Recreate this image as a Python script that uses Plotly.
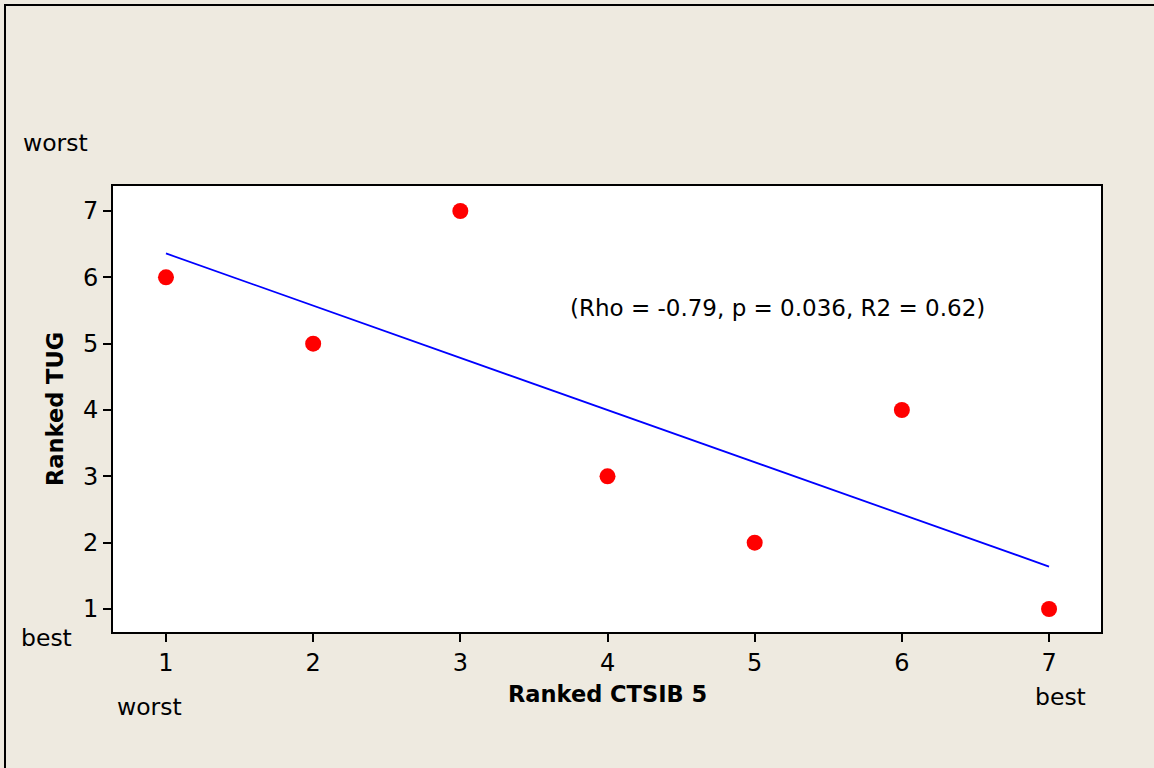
import plotly.graph_objects as go

# Data
ctsib_rank = [1, 2, 3, 4, 5, 6, 7]
tug_rank = [6, 5, 7, 3, 2, 4, 1]
fit_x = [1, 7]
fit_y = [6.36, 1.64]
x_ticks = [1, 2, 3, 4, 5, 6, 7]
y_ticks = [1, 2, 3, 4, 5, 6, 7]
stats_text = "(Rho = -0.79, p = 0.036, R2 = 0.62)"

W, H = 1154, 768
L, R, T, B = 113, 1101, 186, 632
FONT = "DejaVu Sans"
BG = "#EEEAE0"


def px(xp):
    return (xp - L) / (R - L)


def py(yp):
    return (B - yp) / (B - T)


fig = go.Figure()
fig.add_trace(go.Scatter(x=fit_x, y=fit_y, mode="lines",
                         line=dict(color="#0000FF", width=1.8),
                         hoverinfo="skip", showlegend=False))
fig.add_trace(go.Scatter(x=ctsib_rank, y=tug_rank, mode="markers",
                         marker=dict(color="#FF0000", size=16, line=dict(width=0)),
                         showlegend=False))

axis_common = dict(showgrid=False, zeroline=False, showline=True, linecolor="black",
                   linewidth=2, mirror=True, ticks="outside", ticklen=8, tickwidth=2,
                   tickcolor="black", tickfont=dict(family=FONT, size=24, color="black"))

fig.update_xaxes(range=[0.64, 7.353], tickvals=x_ticks, **axis_common)
fig.update_yaxes(range=[0.653, 7.377], tickvals=y_ticks, **axis_common)

anns = [
    dict(x=777, y=308, text=stats_text, size=23),
    dict(x=55, y=143, text="worst", size=23.5),
    dict(x=46, y=638, text="best", size=23.5),
    dict(x=149, y=707, text="worst", size=23.5),
    dict(x=1060, y=697, text="best", size=23.5),
    dict(x=607, y=694, text="<b>Ranked CTSIB 5</b>", size=22.5),
]
for a in anns:
    fig.add_annotation(x=px(a["x"]), y=py(a["y"]), xref="paper", yref="paper",
                       text=a["text"], showarrow=False, xanchor="center", yanchor="middle",
                       font=dict(family=FONT, size=a["size"], color="black"))
fig.add_annotation(x=px(55), y=py(409), xref="paper", yref="paper",
                   text="<b>Ranked TUG</b>", showarrow=False, textangle=-90,
                   xanchor="center", yanchor="middle",
                   font=dict(family=FONT, size=22.5, color="black"))

# outer frame
fig.add_shape(type="rect", xref="paper", yref="paper",
              x0=px(5), y0=py(800), x1=px(1200), y1=py(5),
              line=dict(color="black", width=2), fillcolor="rgba(0,0,0,0)", layer="below")

fig.update_layout(width=W, height=H, paper_bgcolor=BG, plot_bgcolor="white",
                  margin=dict(l=L, r=W - R, t=T, b=H - B), showlegend=False)

fig.write_html("out.html")
